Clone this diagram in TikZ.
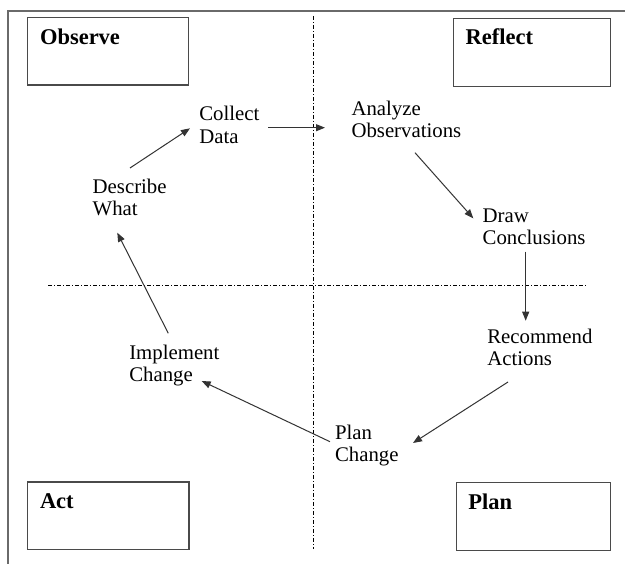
\documentclass[tikz,border=0pt]{standalone}
\usepackage{fontspec}
\setmainfont{Liberation Serif}
\usetikzlibrary{arrows.meta,calc}
\definecolor{framegray}{HTML}{6A6A6A}
\definecolor{boxgray}{HTML}{4A4A4A}
\definecolor{arrowgray}{HTML}{333333}
\tikzset{
  txt/.style={inner sep=0pt, outer sep=0pt, align=left, anchor=base west,
    font=\fontsize{20.8}{22.3}\selectfont},
  lbl/.style={inner sep=0pt, outer sep=0pt, anchor=base west,
    font=\fontsize{22.5}{26}\selectfont\bfseries},
  phasebox/.style={draw=boxgray, line width=1.2pt},
  frameline/.style={draw=framegray, line width=1.4pt},
  divider/.style={draw=black, line width=0.7pt, dash pattern=on 4pt off 2pt on 1pt off 2pt},
  flow/.style={draw=arrowgray, line width=1pt, -{Triangle[length=9pt,width=7pt]}}
}
\begin{document}
\begin{tikzpicture}[x=1pt,y=-1pt]
\useasboundingbox (0,0) rectangle (625,564);
\fill[white] (0,0) rectangle (625,564);
% frame
\draw[frameline] (625,11) -- (8,11) -- (8,564);
% dividers
\draw[divider] (313,16) -- (313,549.5);
\draw[divider] (48,285) -- (587,285);
% phase boxes
\draw[phasebox] (27.7,17.3) rectangle (188.7,85);
\draw[phasebox] (453.3,18.3) rectangle (610.7,86.7);
\draw[phasebox] (27.7,482) rectangle (189,549.3);
\draw[phasebox] (456.7,482.7) rectangle (610.7,550.7);
\node[lbl] (observe) at (40,44.3) {Observe};
\node[lbl] (reflect) at (465.7,45) {Reflect};
\node[lbl] (act) at (40,508.3) {Act};
\node[lbl] (plan) at (468.3,510) {Plan};
% steps (anchor = baseline of the last line)
\node[txt] (coll) at (199.3,143.3) {Collect\\Data};
\node[txt] (anal) at (351.5,137.8) {Analyze\\Observations};
\node[txt] (draw) at (482.7,245) {Draw\\Conclusions};
\node[txt] (rec) at (487.3,365.6) {Recommend\\Actions};
\node[txt] (plch) at (335,461.6) {Plan\\Change};
\node[txt] (impl) at (129.3,381.6) {Implement\\Change};
\node[txt] (desc) at (92.7,215.6) {Describe\\What};
% connectors
\draw[flow] ($(desc.base west)+(37.3,-47.6)$) -- ($(coll.base west)+(-9.3,-15)$);
\draw[flow] ($(coll.base west)+(69,-15.6)$) -- ($(anal.base west)+(-26.5,-10.1)$);
\draw[flow] ($(anal.base west)+(63.5,14.9)$) -- ($(draw.base west)+(-9.4,-26.7)$);
\draw[flow] ($(draw.base west)+(43,6.7)$) -- ($(rec.base west)+(38.4,-44.9)$);
\draw[flow] ($(rec.base west)+(20.7,16.4)$) -- ($(plch.base west)+(78,-18.6)$);
\draw[flow] ($(plch.base west)+(-5,-19.9)$) -- ($(impl.base west)+(72.4,-0.6)$);
\draw[flow] ($(impl.base west)+(39,-48.3)$) -- ($(desc.base west)+(24.6,17.1)$);
\end{tikzpicture}
\end{document}
